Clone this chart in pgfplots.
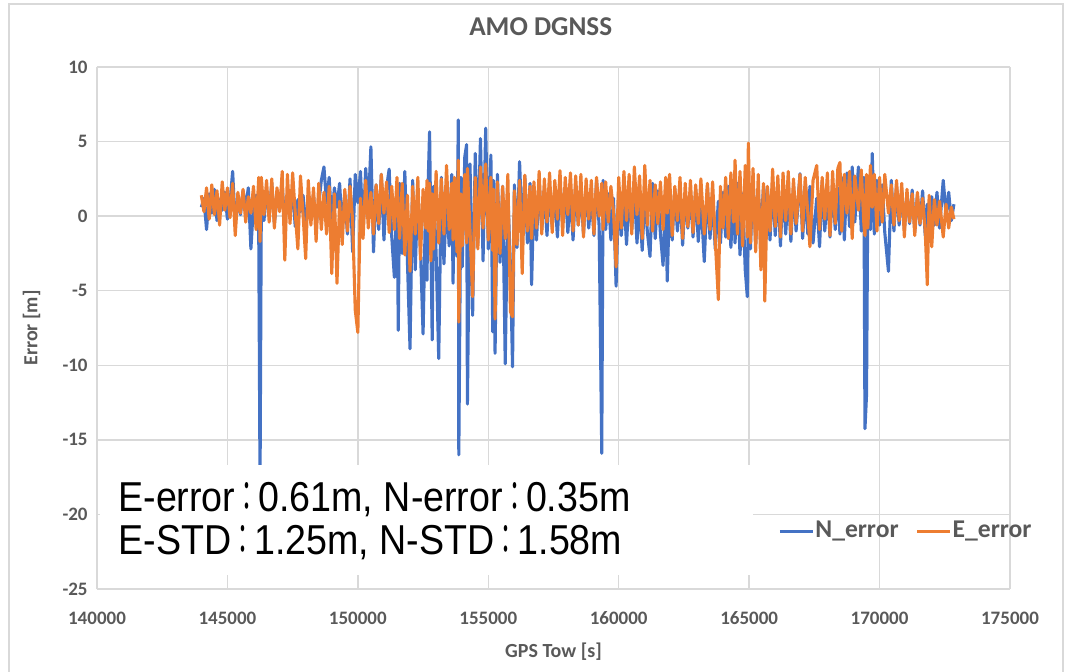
\documentclass[border=0pt]{standalone}
\usepackage{pgfplots}
\pgfplotsset{compat=1.18}
\usepackage{pgfplotstable}
\usepackage{fontspec}
\setmainfont{Carlito}
\newfontfamily\boxfont[FakeStretch=0.9]{Liberation Sans}
\newfontfamily\cjk[FakeStretch=0.55]{Noto Sans CJK TC}
\definecolor{nblue}{HTML}{4472C4}
\definecolor{eorange}{HTML}{ED7D31}
\definecolor{gridgray}{HTML}{D9D9D9}
\definecolor{labelgray}{HTML}{595959}

% GPS time of week [s], north error [m], east error [m]
\pgfplotstableread{
t N E
144000 0.6 1.4
144100 1.2 0.3
144200 -0.9 1.9
144300 1.5 -0.2
144400 0.2 2.1
144500 1.8 0.1
144600 -0.3 1.7
144700 1.1 -0.6
144800 0.4 2.3
144900 1.6 0.4
145000 -0.2 1.9
145100 0.9 -0.1
145200 3.0 2.2
145300 -0.6 -1.3
145400 1.2 1.6
145500 0.1 0.2
145600 1.7 1.8
145700 0.5 -0.4
145800 1.9 1.3
145900 -2.2 0.2
146000 0.8 2.0
146100 1.4 -0.9
146200 -1.0 2.6
146250 -18.0 -1.7
146300 1.0 2.6
146400 -0.3 0.1
146500 1.6 2.4
146600 0.2 -0.4
146700 2.2 2.5
146800 -0.5 -0.8
146900 1.3 1.9
147000 0.6 0.3
147100 2.0 3.0
147200 -0.4 -2.95
147300 1.5 2.8
147400 0.0 -0.5
147500 1.8 2.9
147600 -0.7 0.2
147700 1.1 -2.2
147800 0.3 2.7
147900 1.4 0.1
148000 -0.5 -2.85
148100 1.0 2.4
148200 0.2 -0.6
148300 1.4 1.9
148400 -0.6 -1.7
148500 0.8 2.2
148600 2.4 -0.9
148700 3.3 1.6
148800 0.9 -1.2
148900 2.6 2.0
149000 -0.4 -3.85
149100 1.9 1.5
149200 0.6 -4.5
149300 2.2 1.0
149400 -0.8 -1.9
149500 1.5 1.8
149600 -1.2 -1.0
149700 2.5 2.0
149800 -2.4 -0.3
149900 2.8 -6.3
150000 0.9 -7.8
150100 3.0 1.2
150200 -1.1 -1.5
150300 3.2 2.4
150400 0.5 -0.8
150500 4.65 1.6
150600 -2.4 -1.2
150700 2.1 2.1
150800 -0.9 -0.5
150900 2.8 2.8
151000 -1.6 0.2
151100 1.9 2.3
151200 3.15 -1.1
151300 -1.4 2.0
151400 -4.1 -0.9
151500 1.7 2.6
151550 -7.65 0.3
151600 2.2 -1.5
151700 -2.5 2.2
151800 3.0 -2.6
151900 -3.0 1.4
152000 -8.9 -3.7
152100 2.4 2.0
152200 -3.6 -1.2
152300 1.8 2.6
152400 -2.2 -2.9
152500 -7.9 1.8
152600 1.2 -0.8
152650 -4.3 2.4
152700 2.5 -1.0
152750 5.65 2.2
152800 -1.5 -3.0
152850 -8.3 1.5
152900 2.0 -2.2
153000 -2.5 3.0
153100 -9.55 -1.8
153200 2.6 2.5
153300 -3.2 -1.2
153400 1.4 3.4
153500 -2.0 -0.9
153600 2.8 2.2
153650 -4.5 -1.6
153700 1.9 2.6
153800 -2.7 -2.4
153850 6.45 3.75
153870 -16.0 -7.1
153950 2.6 1.5
154000 -3.4 -2.0
154100 4.0 2.8
154170 4.8 -1.8
154200 -12.6 3.2
154300 3.5 -1.0
154400 -6.65 -5.4
154500 4.2 2.6
154600 -1.8 -2.2
154700 5.2 3.3
154800 -3.0 -0.8
154900 5.9 3.5
155000 -2.2 -1.6
155100 4.1 2.6
155170 -7.75 -2.3
155200 2.4 1.8
155260 -9.2 -6.9
155350 2.8 2.3
155450 -3.1 -2.5
155550 2.0 2.0
155650 -9.9 -1.5
155750 1.5 2.8
155850 -3.4 -6.4
155930 -10.1 -6.75
156000 2.1 1.7
156100 -2.1 -1.9
156200 3.65 2.4
156300 -1.3 -3.85
156400 2.7 2.75
156500 -1.8 -1.0
156600 2.2 2.0
156660 -4.6 -1.5
156750 1.6 2.3
156850 -1.6 -0.8
156950 2.4 3.0
157050 -0.9 -1.2
157150 1.8 2.5
157250 -1.3 -0.4
157350 2.0 2.9
157450 -0.7 -1.1
157550 1.6 2.4
157650 -1.4 -0.2
157750 2.3 3.05
157850 -0.5 -1.3
157950 1.9 2.6
158050 -1.1 0.1
158150 1.5 2.9
158250 -1.6 -1.0
158350 2.1 2.7
158450 -0.6 -0.6
158550 1.7 2.8
158650 -1.2 -1.4
158750 2.0 2.5
158850 -0.8 -0.2
158950 1.4 2.4
159050 -1.3 -1.2
159150 2.4 2.6
159250 -0.7 0.0
159350 -15.9 2.2
159400 2.4 -0.9
159500 -0.9 2.3
159600 1.5 -0.4
159700 -1.6 2.0
159800 1.2 0.3
159900 -4.7 -3.4
160000 1.9 2.6
160100 -1.3 -0.8
160200 1.3 3.0
160300 -1.9 -0.3
160400 1.6 2.8
160500 -0.9 -1.2
160600 1.8 3.3
160700 -1.8 0.1
160800 1.0 2.7
160900 -2.3 -1.5
161000 1.4 3.4
161100 -1.1 -0.6
161200 -2.7 2.4
161300 2.2 -1.0
161400 -1.5 2.1
161500 1.7 -0.5
161600 -1.2 2.3
161700 -3.3 -0.9
161800 1.5 2.6
161860 -4.35 0.2
161950 1.2 2.8
162050 -1.6 -1.3
162150 1.8 2.0
162250 -1.0 -0.3
162350 1.5 2.6
162450 -1.95 -1.5
162550 1.3 2.2
162650 -0.8 -0.7
162750 1.6 2.4
162850 -1.4 -1.1
162950 1.8 2.1
163050 -1.7 -0.5
163150 1.2 2.5
163280 -3.05 -1.2
163400 2.0 2.2
163500 -1.5 -0.9
163600 1.4 2.3
163700 -2.2 -1.6
163820 1.0 -5.6
163900 -1.8 2.0
164000 1.6 -0.8
164100 -1.4 2.6
164200 2.0 -1.5
164300 -2.1 2.9
164400 1.7 -0.4
164460 -1.8 3.75
164550 2.2 -1.2
164650 -2.6 3.0
164750 1.5 -2.0
164850 -3.6 3.4
164930 -5.4 -1.4
164970 1.8 4.9
165050 -2.2 -1.8
165150 2.5 3.2
165250 -1.9 -2.4
165350 1.6 2.8
165450 -1.1 -3.6
165550 2.0 2.2
165600 -0.8 -5.7
165700 1.9 2.0
165800 -1.6 -1.0
165900 2.3 3.15
166000 -1.3 -0.7
166100 1.8 2.7
166200 -2.0 -1.4
166300 2.1 2.9
166400 -1.2 -0.3
166500 1.6 3.0
166600 -1.7 -1.2
166700 2.0 2.5
166800 -1.0 -0.5
166950 2.85 2.8
167050 -1.5 -1.0
167150 1.6 2.6
167250 -1.2 0.2
167330 2.0 -2.05
167450 -1.8 2.4
167590 1.2 3.4
167700 -2.05 -0.9
167800 2.3 2.6
167900 -1.0 -0.2
168000 1.7 2.9
168100 -1.4 -1.3
168200 2.2 3.0
168300 -0.9 -0.5
168400 1.9 3.2
168480 -1.2 3.6
168550 2.6 -1.0
168650 -1.6 2.8
168750 2.9 0.2
168850 -0.7 3.0
168950 3.3 -1.5
169050 -0.4 2.7
169190 3.3 0.4
169300 -1.0 3.1
169400 2.6 -0.6
169440 -14.25 -1.3
169500 -12.0 2.8
169550 1.5 -0.8
169650 -0.9 3.4
169720 4.2 0.6
169800 -1.2 2.8
169900 2.4 -1.0
170000 -0.6 2.6
170100 2.1 -0.4
170200 -1.1 2.8
170340 -3.7 0.2
170450 2.4 2.1
170550 -1.0 -0.6
170650 2.0 2.4
170750 -0.6 -0.3
170850 1.7 2.2
170950 -0.9 -1.4
171050 1.5 1.8
171150 -0.5 -0.4
171250 1.75 1.5
171350 -1.0 -1.3
171450 1.4 1.6
171550 -0.6 -0.5
171650 1.7 1.2
171750 -1.3 -1.0
171830 0.8 -4.6
171900 -0.4 1.4
172000 1.3 -2.05
172100 -0.6 1.1
172200 1.6 -0.6
172300 -0.8 1.0
172440 2.4 -1.4
172550 0.1 0.8
172650 1.6 -0.8
172750 -0.3 0.6
172850 0.8 -0.2
}\errtable

\begin{document}
\begin{tikzpicture}
\useasboundingbox (-48.5pt,-41pt) rectangle (487pt,294.5pt);
% chart area frame
\draw[gridgray, line width=0.75pt] (-44pt,-60pt) rectangle (483pt,292.5pt);
\begin{axis}[
  at={(0,0)}, anchor=south west,
  scale only axis, width=456.5pt, height=261pt,
  xmin=140000, xmax=175000, ymin=-25, ymax=10,
  scaled x ticks=false, scaled y ticks=false,
  xtick={140000,145000,150000,155000,160000,165000,170000,175000},
  xticklabels={140000,145000,150000,155000,160000,165000,170000,175000},
  ytick={-25,-20,-15,-10,-5,0,5,10},
  yticklabels={-25,-20,-15,-10,-5,0,5,10},
  axis line style={draw=none},
  major tick length=0pt,
  grid=major,
  major grid style={gridgray, line width=0.75pt},
  tick label style={font=\bfseries\fontsize{9.5}{11}\selectfont, text=labelgray},
  yticklabel style={anchor=east, inner sep=0pt, xshift=-4.5pt},
  xticklabel style={anchor=base, inner sep=0pt, yshift=-17.5pt},
  title={AMO DGNSS},
  title style={at={(axis description cs:0.486,1.038)}, anchor=base, inner sep=0pt,
    font=\bfseries\fontsize{13.6}{16}\selectfont, text=labelgray},
  xlabel={GPS Tow [s]},
  xlabel style={at={(axis description cs:0.5,-0.1312)}, anchor=base, inner sep=0pt,
    font=\bfseries\fontsize{10}{12}\selectfont, text=labelgray},
  ylabel={Error [m]},
  ylabel style={at={(axis description cs:-0.0652,0.5)}, anchor=base, inner sep=0pt,
    font=\bfseries\fontsize{10}{12}\selectfont, text=labelgray},
  legend columns=2,
  legend image code/.code={\draw[#1, line width=1.5pt] (0pt,0pt) -- (16.5pt,0pt);},
  legend style={at={(axis description cs:0.7459,0.1110)}, anchor=west,
    draw=none, fill=none, inner sep=0pt,
    font=\bfseries\fontsize{12.8}{15}\selectfont, text=labelgray,
    nodes={inner sep=0.5pt},
    /tikz/every odd column/.append style={column sep=0pt},
    /tikz/every even column/.append style={column sep=8pt}},
]
\addplot[nblue, line width=1.55pt, line join=round] table[x=t, y=N] {\errtable};
\addlegendentry{N\_error}
\addplot[eorange, line width=1.55pt, line join=round] table[x=t, y=E] {\errtable};
\addlegendentry{E\_error}
% statistics box
\fill[white] (axis cs:140100,-16.7) rectangle (axis cs:165150,-24.07);
\node[anchor=base west, inner sep=0pt, font=\boxfont\fontsize{20.9}{24}\selectfont]
  at (axis cs:140805,-19.78) {E-error{\cjk ：}0.61m, N-error{\cjk ：}0.35m};
\node[anchor=base west, inner sep=0pt, font=\boxfont\fontsize{20.9}{24}\selectfont]
  at (axis cs:140805,-22.66) {E-STD{\cjk ：}1.25m, N-STD{\cjk ：}1.58m};
\end{axis}
\end{tikzpicture}
\end{document}
